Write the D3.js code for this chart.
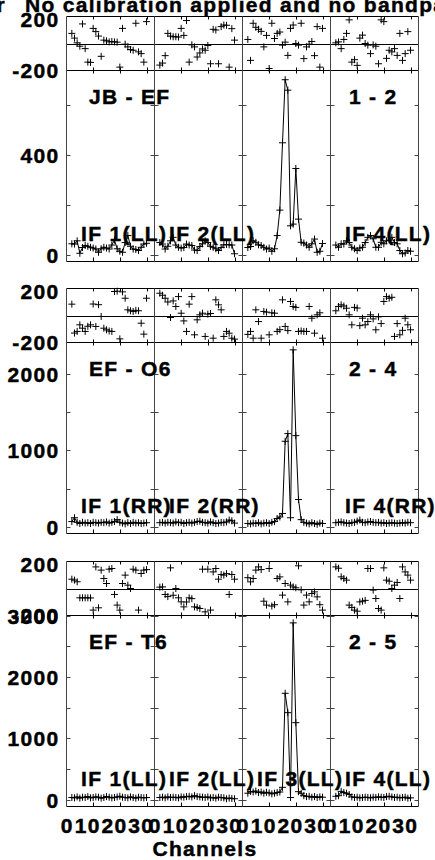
<!DOCTYPE html>
<html><head><meta charset="utf-8">
<script src="https://cdn.jsdelivr.net/npm/d3@7"></script>
<style>body{margin:0;background:#fff}svg{display:block}</style>
</head><body><svg id="c" width="435" height="860"></svg>
<script>
// ---------- data ----------
const channels = d3.range(2, 31); // channels 2..30
const titleText = "No calibration applied and no bandpass applied";
const baselineLabels = ["JB - EF", "EF - O6", "EF - T6"];
const pairLabels = ["1 - 2", "2 - 4", "2 - 5"];
const ifLabels = [
  ["IF 1(LL)", "IF 2(LL)", "", "IF 4(LL)"],
  ["IF 1(RR)", "IF 2(RR)", "", "IF 4(RR)"],
  ["IF 1(LL)", "IF 2(LL)", "IF 3(LL)", "IF 4(LL)"]
];
const phaseRow1 = [
  [75,40,5,-20,145,-38,-138,-140,112,88,55,-95,25,20,12,15,12,10,-175,112,-5,-25,-45,-50,150,-62,-75,-138,162],
  [-160,-145,-90,75,55,50,50,48,112,60,170,-138,-10,-25,-100,-70,-40,-50,-15,-150,105,100,-150,125,137,135,-175,110,25],
  [30,-125,150,120,105,90,-25,60,-185,150,37,75,85,-12,10,-88,112,137,0,-12,150,-112,-25,-5,15,-90,125,-175,112],
  [5,12,-38,30,75,175,-138,-120,-162,40,62,0,-12,-75,-10,-20,-150,175,162,-110,-50,-62,-38,-88,75,-125,-75,88,-50]
];
const phaseRow2 = [
  [84,-130,-118,-69,-94,-118,-80,-69,85,-81,80,-7,-94,-106,-115,-118,178,180,-173,175,128,42,35,30,38,35,-57,-138,128],
  [165,150,128,100,-15,108,67,140,17,-40,-118,84,140,-143,-32,5,17,-155,10,15,-168,116,79,42,-155,-118,-131,-168,-175],
  [-140,-118,-168,42,-45,-168,30,25,-143,20,17,-118,-105,116,-81,-112,104,67,60,-118,-115,-118,-118,67,-20,-131,5,20,-168],
  [35,67,79,70,54,5,-69,60,55,-75,-20,-69,-45,5,-25,-106,-10,-60,104,140,128,135,-155,-60,-143,-110,-20,-69,-106]
];
const phaseRow3 = [
  [69,62,50,-69,-69,-69,-69,-70,-160,160,-143,136,74,37,143,148,-44,-123,-160,37,99,25,0,143,136,-160,111,136,140],
  [10,12,-44,-60,153,-50,0,-69,-99,-136,-100,-69,-75,-136,-140,-148,143,-173,143,-160,123,148,69,104,99,110,-44,104,69],
  [80,49,74,136,160,140,-94,-123,148,-130,-120,74,86,-49,37,-99,25,12,5,168,-10,-123,-49,-99,-37,-25,-62,-120,-160],
  [160,150,86,74,62,-123,-140,-160,-168,-99,-94,-88,148,148,-12,-74,-148,-160,153,62,54,0,25,45,-74,160,123,99,62]
];
const ampRow1 = [
  [45,44,57,7,30,38,35,31,28,24,11,25,31,28,24,40,60,25,15,11,50,78,35,24,22,18,31,44,47],
  [50,44,24,35,57,71,40,31,28,30,44,40,38,20,18,34,45,57,50,35,31,25,18,30,41,42,41,40,5],
  [30,34,57,51,41,38,31,24,28,15,25,78,180,450,703,661,117,124,347,144,51,48,40,31,45,64,11,15,46],
  [40,31,45,44,57,50,31,25,18,28,31,50,71,78,65,31,31,51,45,57,60,71,50,45,18,5,8,18,15]
];
const ampRow2 = [
  [70,120,60,45,60,50,55,45,60,55,50,60,55,65,50,60,70,95,60,50,40,55,45,60,50,55,45,50,55],
  [55,60,50,60,55,50,65,55,60,45,55,60,50,60,70,75,60,55,50,65,55,45,50,60,55,65,90,80,50],
  [45,40,50,45,55,40,50,55,45,60,70,110,130,176,1119,1219,120,2314,1193,358,95,60,50,40,55,45,35,50,45],
  [55,60,65,55,50,45,55,60,75,90,60,55,65,70,60,55,60,50,55,45,50,55,50,45,50,55,50,60,55]
];
const ampRow3 = [
  [40,35,50,30,45,40,55,35,40,50,45,30,40,55,45,35,40,50,60,45,40,35,50,40,30,45,40,35,40],
  [40,45,35,50,40,45,40,35,50,45,55,60,50,70,55,50,45,40,50,35,40,30,45,40,35,20,30,25,20],
  [110,140,130,145,120,130,110,125,115,100,110,120,130,206,1735,1420,40,2880,1257,135,109,70,55,60,45,55,40,50,45],
  [60,70,140,120,110,90,50,40,45,35,40,45,40,35,45,40,50,45,40,55,60,50,40,45,35,40,45,30,35]
];
const phaseData = [phaseRow1, phaseRow2, phaseRow3];
const ampData = [ampRow1, ampRow2, ampRow3];
const ampDomains = [[-26, 740], [-86, 2410], [-106, 3000]];
const ampTicks = [[0,200,400,600],[0,500,1000,1500,2000],[0,500,1000,1500,2000,2500,3000]];
const ampTickLabels = [[0,400],[0,1000,2000],[0,1000,2000,3000]];
const phaseDomain = [-200, 200];
const phaseTickLabels = [200, -200];
const chanDomain = [0, 33];
const chanTicks = [0, 10, 20, 30];
const xTitle = "Channels";

// ---------- layout ----------
const svg = d3.select("#c");
const FONT = "'Liberation Sans', Arial, Helvetica, sans-serif";
const LS = 1.3;
const nPan = 4, panW = 88, x0 = 66.5;
const phaseH = 54, ampH = 191;
const panelLeft = d3.scaleLinear().domain([0, nPan]).range([x0, x0 + nPan * panW]);
const rowTopScale = d3.scaleLinear().domain([0, 2]).range([16, 560.6]);
const rowTop = r => Math.round(rowTopScale(r)) + 0.5;
const vCol = "#444";

const gFrame = svg.append("g");
const gData = svg.append("g");
const gText = svg.append("g").attr("font-family", FONT).attr("font-weight", "bold")
  .attr("font-size", 21).attr("letter-spacing", LS).attr("fill", "#000")
  .attr("stroke", "#000").attr("stroke-width", 0.45);

const cross = "M-3.5,0H3.5M0,-3.5V3.5";

for (let r = 0; r < 3; r++) {
  const pTop = rowTop(r), pBot = pTop + phaseH, aBot = pBot + ampH;
  const yP = d3.scaleLinear().domain(phaseDomain).range([pBot, pTop]);
  const yA = d3.scaleLinear().domain(ampDomains[r]).range([aBot, pBot]);
  const L = panelLeft(0), R = panelLeft(nPan);

  [pTop, pBot, aBot].forEach(y => gFrame.append("line").attr("x1", L).attr("x2", R)
    .attr("y1", y).attr("y2", y).attr("stroke", "#000"));
  const y0 = Math.round(yP(0)) + 0.5;
  gFrame.append("line").attr("x1", L).attr("x2", R).attr("y1", y0).attr("y2", y0).attr("stroke", "#000");

  for (let p = 0; p <= nPan; p++) {
    const x = panelLeft(p);
    gFrame.append("line").attr("x1", x).attr("x2", x).attr("y1", pTop).attr("y2", aBot).attr("stroke", vCol);
    ampTicks[r].forEach(v => {
      const y = Math.round(yA(v)) + 0.5;
      const xa = p > 0 ? x - 4 : x, xb = p < nPan ? x + 4 : x;
      gFrame.append("line").attr("x1", xa).attr("x2", xb).attr("y1", y).attr("y2", y).attr("stroke", vCol);
    });
  }

  for (let p = 0; p < nPan; p++) {
    const xs = d3.scaleLinear().domain(chanDomain).range([panelLeft(p), panelLeft(p + 1)]);
    chanTicks.filter(c => c > 0).forEach(c => {
      const x = Math.round(xs(c)) + 0.5;
      gFrame.append("line").attr("x1", x).attr("x2", x).attr("y1", pTop).attr("y2", pTop + 3).attr("stroke", "#000");
      gFrame.append("line").attr("x1", x).attr("x2", x).attr("y1", pBot - 3).attr("y2", pBot + 3).attr("stroke", "#000");
      gFrame.append("line").attr("x1", x).attr("x2", x).attr("y1", aBot - 4).attr("y2", aBot).attr("stroke", "#000");
    });

    const ph = phaseData[r][p];
    gData.append("g").selectAll("path").data(channels).join("path")
      .attr("d", cross)
      .attr("transform", (c, i) => `translate(${xs(c)},${yP(ph[i])})`)
      .attr("stroke", "#000").attr("stroke-width", 1).attr("fill", "none");

    const am = ampData[r][p];
    const line = d3.line().x((c) => xs(c)).y((c, i) => yA(am[i]));
    gData.append("path").datum(channels).attr("d", line)
      .attr("fill", "none").attr("stroke", "#000").attr("stroke-width", 1);
    gData.append("g").selectAll("path").data(channels).join("path")
      .attr("d", cross)
      .attr("transform", (c, i) => `translate(${xs(c)},${yA(am[i])})`)
      .attr("stroke", "#000").attr("stroke-width", 1).attr("fill", "none");

    if (ifLabels[r][p]) {
      gText.append("text").attr("x", panelLeft(p) + 14.5).attr("y", aBot - 21).text(ifLabels[r][p]);
    }
  }

  const lx = 59.5;
  gText.append("text").attr("x", lx).attr("y", pTop + 10).attr("text-anchor", "end").text(phaseTickLabels[0]);
  gText.append("text").attr("x", lx).attr("y", pBot + 7).attr("text-anchor", "end").text(phaseTickLabels[1]);
  ampTickLabels[r].forEach(v => {
    gText.append("text").attr("x", lx).attr("y", yA(v) + 8).attr("text-anchor", "end").text(v);
  });

  gText.append("text").attr("x", 89).attr("y", pBot + 33).text(baselineLabels[r]);
  gText.append("text").attr("x", 349).attr("y", pBot + 33).text(pairLabels[r]);

  if (r === 2) {
    for (let p = 0; p < nPan; p++) {
      const xs = d3.scaleLinear().domain(chanDomain).range([panelLeft(p), panelLeft(p + 1)]);
      chanTicks.forEach(c => {
        const s = String(c);
        gText.append("text").attr("x", xs(c) + LS / 2 - (s.length - 1) * 6)
          .attr("y", aBot + 26.5).attr("text-anchor", "middle").text(s);
      });
    }
  }
}

gText.append("text").attr("x", -3.5).attr("y", 12).text("r");
gText.append("text").attr("x", 25).attr("y", 12).text(titleText);
gText.append("text").attr("x", 205).attr("y", 855.5).attr("text-anchor", "middle").text(xTitle);
</script>
</body></html>
